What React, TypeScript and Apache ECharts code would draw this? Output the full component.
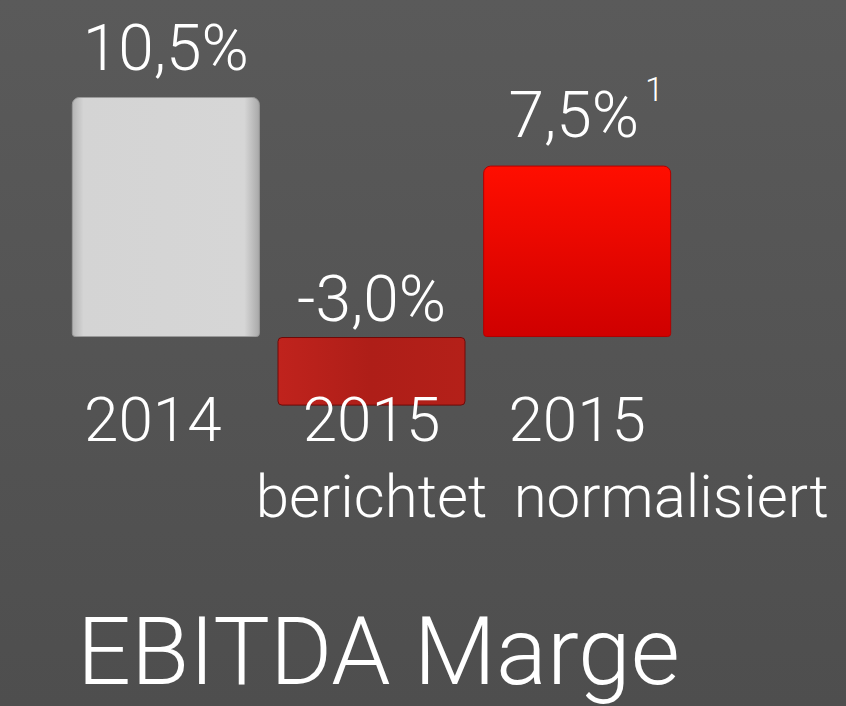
import React, { useEffect, useRef } from "react";
import * as echarts from "echarts";

const categories = ["2014", "2015", "2015"];
const subCategories = ["", "berichtet", "normalisiert"];
const values = [10.5, -3.0, 7.5];
const valueLabels = ["10,5%", "-3,0%", "7,5%"];
const footnotes = ["", "", "1"];
const title = "EBITDA Marge";

const FONT = "'Helvetica Neue', Roboto, Inter, 'Liberation Sans', sans-serif";

export default function App() {
  const ref = useRef<HTMLDivElement>(null);
  useEffect(() => {
    document.body.style.margin = "0";
    const chart = echarts.init(ref.current!, null, { renderer: "svg" });
    const barColors = [
      new echarts.graphic.LinearGradient(0, 0, 1, 0, [
        { offset: 0, color: "#b4b4b4" },
        { offset: 0.06, color: "#d4d4d4" },
        { offset: 0.92, color: "#d6d6d6" },
        { offset: 1, color: "#a9a9a9" },
      ]),
      new echarts.graphic.LinearGradient(0, 0, 1, 0, [
        { offset: 0, color: "#c0231d" },
        { offset: 0.5, color: "#ae1e18" },
        { offset: 1, color: "#b42019" },
      ]),
      new echarts.graphic.LinearGradient(0, 0, 0, 1, [
        { offset: 0, color: "#ff0e00" },
        { offset: 1, color: "#cf0000" },
      ]),
    ];
    const borders = ["#9a9a9a", "#6e0a08", "#b00000"];
    const labelDistances = [17, 6, 6];
    const option: any = {
      animation: false,
      backgroundColor: new echarts.graphic.LinearGradient(0, 0, 0, 1, [
        { offset: 0, color: "#5a5a5a" },
        { offset: 1, color: "#4e4e4e" },
      ]),
      title: {
        text: title,
        left: 72,
        top: 599,
        textStyle: { color: "#ffffff", fontSize: 95, fontWeight: 300, fontFamily: FONT },
      },
      grid: { left: 63, right: 166, top: 97, bottom: 706 - 405.6 },
      xAxis: [
        {
          type: "category",
          z: 5,
          data: categories.map((c, i) =>
            i === 0 ? { value: c, textStyle: { padding: [0, 26, 0, 0] } } : c
          ),
          axisLine: { show: false, onZero: false },
          axisTick: { show: false },
          axisLabel: {
            color: "#ffffff",
            fontSize: 62,
            fontWeight: 300,
            fontFamily: FONT,
            margin: -17,
            interval: 0,
          },
        },
        {
          type: "category",
          position: "bottom",
          z: 5,
          data: subCategories.map((s, i) =>
            i === 2 ? { value: s, textStyle: { padding: [0, 0, 0, 188] } } : s
          ),
          axisLine: { show: false, onZero: false },
          axisTick: { show: false },
          axisLabel: {
            color: "#ffffff",
            fontSize: 60,
            fontWeight: 300,
            fontFamily: FONT,
            margin: 61,
            interval: 0,
          },
        },
      ],
      yAxis: { type: "value", min: -3, max: 10.5, show: false, splitLine: { show: false } },
      series: [
        {
          type: "bar",
          barWidth: 188,
          z: 1,
          data: values.map((v, i) => ({
            value: v,
            itemStyle: {
              color: barColors[i],
              borderColor: borders[i],
              borderWidth: 1,
              borderRadius: i === 1 ? 4 : [7, 7, 3, 3],
            },
            label: { position: "top", distance: labelDistances[i] },
          })),
          label: {
            show: true,
            color: "#ffffff",
            fontSize: 64,
            fontWeight: 300,
            fontFamily: FONT,
            formatter: (p: any) =>
              footnotes[p.dataIndex]
                ? `{m|${valueLabels[p.dataIndex]}}{sup|${footnotes[p.dataIndex]}}`
                : valueLabels[p.dataIndex],
            rich: {
              m: { color: "#ffffff", fontSize: 64, fontWeight: 300, fontFamily: FONT, padding: [0, 0, 0, 18] },
              sup: { color: "#ffffff", fontSize: 34, fontWeight: 300, fontFamily: FONT, padding: [0, 0, 54, 6] },
            },
          },
        },
      ],
    };
    chart.setOption(option);
    return () => chart.dispose();
  }, []);
  return <div ref={ref} style={{ width: 846, height: 706 }} />;
}
